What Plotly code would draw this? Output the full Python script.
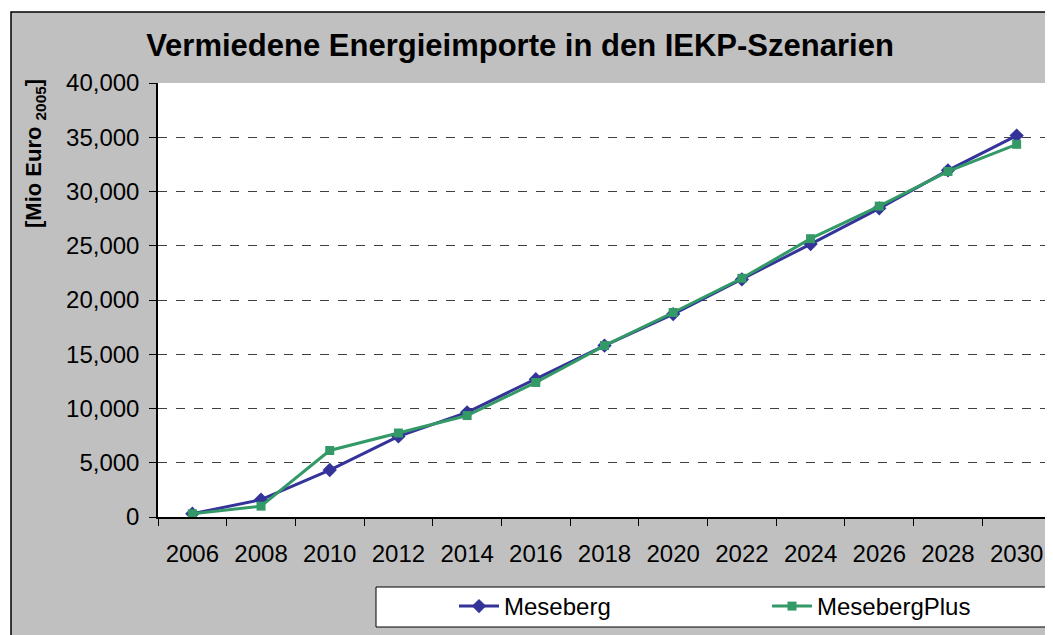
import plotly.graph_objects as go

years = ["2006", "2008", "2010", "2012", "2014", "2016", "2018", "2020",
         "2022", "2024", "2026", "2028", "2030"]
meseberg = [300, 1600, 4330, 7430, 9650, 12700, 15800, 18700,
            21900, 25150, 28450, 31950, 35150]
meseberg_plus = [300, 1000, 6130, 7740, 9350, 12400, 15800, 18850,
                 22000, 25650, 28650, 31850, 34350]
y_ticks = [0, 5000, 10000, 15000, 20000, 25000, 30000, 35000, 40000]

# page places the figure at (8, 8) because of the default body margin
OX, OY = 8, 8
W, H = 1053 - OX, 635 - OY
L, R, T, B = 158, 1051, 83, 517  # screen coordinates of plot area


def px(x):
    return (x - L) / (R - L)


def py(y):
    return (B - y) / (B - T)


font_family = "Liberation Sans, Arial, sans-serif"

fig = go.Figure()
fig.add_trace(go.Scatter(
    x=years, y=meseberg, name="Meseberg", mode="lines+markers",
    line=dict(color="#333399", width=3),
    marker=dict(symbol="diamond", size=11, color="#333399"),
))
fig.add_trace(go.Scatter(
    x=years, y=meseberg_plus, name="MesebergPlus", mode="lines+markers",
    line=dict(color="#339966", width=3),
    marker=dict(symbol="square", size=9, color="#339966"),
))

shapes = [
    dict(type="rect", xref="paper", yref="paper", layer="below",
         x0=px(11), x1=px(1075), y0=py(660), y1=py(12),
         fillcolor="#c0c0c0", line=dict(color="#000000", width=1.5)),
    dict(type="rect", xref="paper", yref="paper", layer="below",
         x0=0, x1=1, y0=0, y1=1, fillcolor="#ffffff", line=dict(width=0)),
    dict(type="line", xref="paper", yref="paper",
         x0=1, x1=1, y0=0, y1=1, line=dict(color="#808080", width=2)),
    dict(type="rect", xref="paper", yref="paper",
         x0=px(376), x1=px(1050), y0=py(627), y1=py(587),
         fillcolor="#ffffff", line=dict(color="#000000", width=1)),
]

annotations = [
    dict(text="<b>[Mio Euro <sub>2005</sub>]</b>", xref="paper", yref="paper",
         x=px(35), y=py(153), textangle=-90, showarrow=False,
         font=dict(family=font_family, size=22, color="#000000"),
         xanchor="center", yanchor="middle"),
]

fig.update_layout(
    width=W, height=H,
    margin=dict(l=L - OX, r=W + OX - R, t=T - OY, b=H + OY - B, autoexpand=False),
    paper_bgcolor="#ffffff",
    plot_bgcolor="rgba(0,0,0,0)",
    title=dict(text="<b>Vermiedene Energieimporte in den IEKP-Szenarien</b>",
               x=px(520), xanchor="center", xref="paper",
               y=1 - (45 - OY) / H, yanchor="middle",
               font=dict(family=font_family, size=31, color="#000000")),
    font=dict(family=font_family, color="#000000"),
    showlegend=True,
    legend=dict(orientation="h", x=px(454), y=py(584), xanchor="left", yanchor="top",
                bgcolor="rgba(0,0,0,0)", borderwidth=0,
                font=dict(family=font_family, size=24, color="#000000"),
                entrywidth=258, entrywidthmode="pixels",
                itemwidth=40),
    shapes=shapes,
    annotations=annotations,
    xaxis=dict(
        type="category", tickson="boundaries", ticks="outside", ticklen=7,
        tickcolor="#000000", showline=True, linecolor="#000000", linewidth=1.5,
        showgrid=False, ticklabelstandoff=14,
        tickfont=dict(size=24, family=font_family, color="#000000"),
        range=[-0.5, 12.5],
    ),
    yaxis=dict(
        range=[0, 40000], tickvals=y_ticks, tickformat=",d",
        ticks="outside", ticklen=7, tickcolor="#000000",
        showline=True, linecolor="#000000", linewidth=1.5,
        showgrid=True, gridcolor="#404040", gridwidth=1, griddash="dash",
        zeroline=False, ticklabelstandoff=5,
        tickfont=dict(size=24, family=font_family, color="#000000"),
    ),
)

fig.write_html("out.html")
